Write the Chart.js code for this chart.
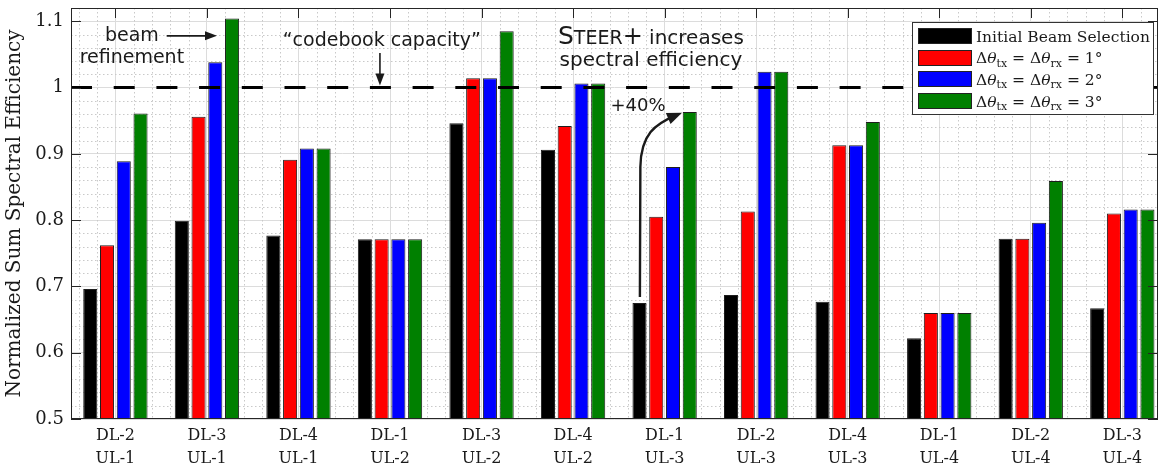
<!DOCTYPE html>
<html>
<head>
<meta charset="utf-8">
<script src="https://cdn.jsdelivr.net/npm/chart.js@4.4.1/dist/chart.umd.min.js"></script>
<style>
  body { margin: 0; background: #fff; }
</style>
</head>
<body>
<canvas id="chart" width="1162" height="465"></canvas>
<script>
// chart values
const categories = [
  ['DL-2', 'UL-1'], ['DL-3', 'UL-1'], ['DL-4', 'UL-1'],
  ['DL-1', 'UL-2'], ['DL-3', 'UL-2'], ['DL-4', 'UL-2'],
  ['DL-1', 'UL-3'], ['DL-2', 'UL-3'], ['DL-4', 'UL-3'],
  ['DL-1', 'UL-4'], ['DL-2', 'UL-4'], ['DL-3', 'UL-4']
];
const initialBeam = [0.696, 0.799, 0.777, 0.771, 0.946, 0.906, 0.675, 0.687, 0.677, 0.622, 0.772, 0.667];
const refine1deg  = [0.762, 0.956, 0.891, 0.771, 1.014, 0.942, 0.805, 0.813, 0.913, 0.660, 0.772, 0.810];
const refine2deg  = [0.889, 1.038, 0.908, 0.771, 1.014, 1.006, 0.880, 1.024, 0.913, 0.660, 0.796, 0.816];
const refine3deg  = [0.961, 1.104, 0.908, 0.771, 1.085, 1.006, 0.963, 1.024, 0.948, 0.660, 0.859, 0.816];
const seriesLabels = [
  'Initial Beam Selection',
  'Δθ_{tx} = Δθ_{rx} = 1°',
  'Δθ_{tx} = Δθ_{rx} = 2°',
  'Δθ_{tx} = Δθ_{rx} = 3°'
];
const seriesColors = ['#000000', '#ff0000', '#0000ff', '#008000'];
const yTicks = [0.5, 0.6, 0.7, 0.8, 0.9, 1, 1.1];
const codebookCapacity = 1;

const TEXT = '#1a1a1a';
const SERIF = '"DejaVu Serif", serif';
const SANS = '"DejaVu Sans", sans-serif';

function toPoints(values) {
  return values.map((v, i) => ({ x: i + 1, y: v }));
}

// draws text with _{...} subscripts, θ in italic
function drawRich(ctx, text, x, y, size) {
  const parts = text.split(/(_\{[^}]*\}|θ)/);
  parts.forEach(p => {
    if (!p) return;
    if (p.startsWith('_{')) {
      const s = p.slice(2, -1);
      ctx.font = `${Math.round(size * 0.7)}px ${SERIF}`;
      ctx.fillText(s, x, y + size * 0.22);
      x += ctx.measureText(s).width;
    } else if (p === 'θ') {
      ctx.font = `italic ${size}px ${SERIF}`;
      ctx.fillText(p, x, y);
      x += ctx.measureText(p).width;
    } else {
      ctx.font = `${size}px ${SERIF}`;
      ctx.fillText(p, x, y);
      x += ctx.measureText(p).width;
    }
  });
}

function arrowHead(ctx, x, y, angle, len, half) {
  ctx.beginPath();
  ctx.moveTo(x, y);
  ctx.lineTo(x - len * Math.cos(angle) + half * Math.sin(angle), y - len * Math.sin(angle) - half * Math.cos(angle));
  ctx.lineTo(x - len * Math.cos(angle) - half * Math.sin(angle), y - len * Math.sin(angle) + half * Math.cos(angle));
  ctx.closePath();
  ctx.fill();
}

// dotted minor grid under the bars
const minorGrid = {
  id: 'minorGrid',
  beforeDatasetsDraw(chart) {
    const { ctx, chartArea: a, scales: { x, y } } = chart;
    ctx.save();
    ctx.strokeStyle = '#c9c9c9';
    ctx.lineWidth = 1;
    ctx.setLineDash([1.5, 2.5]);
    for (let k = Math.ceil(y.min * 50); k <= Math.floor(y.max * 50); k++) {
      if (k % 5 === 0) continue;
      const yy = Math.round(y.getPixelForValue(k / 50)) + 0.5;
      ctx.beginPath(); ctx.moveTo(a.left, yy); ctx.lineTo(a.right, yy); ctx.stroke();
    }
    for (let k = Math.ceil(x.min * 5); k <= Math.floor(x.max * 5); k++) {
      if (k % 5 === 0) continue;
      const xx = Math.round(x.getPixelForValue(k / 5)) + 0.5;
      ctx.beginPath(); ctx.moveTo(xx, a.top); ctx.lineTo(xx, a.bottom); ctx.stroke();
    }
    ctx.restore();
  }
};

// dashed "codebook capacity" line and the text notes
const notes = {
  id: 'notes',
  afterDatasetsDraw(chart) {
    const { ctx, chartArea: a, scales: { x, y } } = chart;
    const X = v => x.getPixelForValue(v);
    const Y = v => y.getPixelForValue(v);
    ctx.save();

    ctx.strokeStyle = '#000';
    ctx.lineWidth = 3;
    ctx.setLineDash([21, 21.7]);
    ctx.beginPath();
    ctx.moveTo(a.left, Y(codebookCapacity));
    ctx.lineTo(a.right, Y(codebookCapacity));
    ctx.stroke();
    ctx.setLineDash([]);

    ctx.fillStyle = TEXT;
    ctx.strokeStyle = TEXT;
    ctx.textAlign = 'center';
    ctx.textBaseline = 'alphabetic';
    ctx.font = `19px ${SANS}`;
    ctx.fillText('beam', X(1.18), Y(1.070));
    ctx.fillText('refinement', X(1.18), Y(1.037));
    ctx.fillText('“codebook capacity”', X(3.91), Y(1.063));

    // beam refinement arrow
    ctx.lineWidth = 1.6;
    ctx.beginPath();
    ctx.moveTo(X(1.56), Y(1.078));
    ctx.lineTo(X(2.06), Y(1.078));
    ctx.stroke();
    arrowHead(ctx, X(2.11), Y(1.078), 0, 12, 4.5);

    // codebook capacity arrow
    ctx.beginPath();
    ctx.moveTo(X(3.89), Y(1.052));
    ctx.lineTo(X(3.89), Y(1.012));
    ctx.stroke();
    arrowHead(ctx, X(3.89), Y(1.003), Math.PI / 2, 12, 4.5);

    // STEER+ text, small caps
    const cx = X(6.85), by = Y(1.066);
    const pieces = [['S', 25], ['TEER', 19], ['+', 24], [' increases', 20]];
    let total = 0;
    pieces.forEach(([t, s]) => { ctx.font = `${s}px ${SANS}`; total += ctx.measureText(t).width; });
    let px = cx - total / 2;
    ctx.textAlign = 'left';
    pieces.forEach(([t, s]) => {
      ctx.font = `${s}px ${SANS}`;
      ctx.fillText(t, px, by);
      px += ctx.measureText(t).width;
    });
    ctx.textAlign = 'center';
    ctx.font = `20px ${SANS}`;
    ctx.fillText('spectral efficiency', cx, Y(1.033));

    ctx.font = `18px ${SANS}`;
    ctx.fillText('+40%', X(6.71), Y(0.965));

    // curved +40% arrow
    const p0 = [X(6.73), Y(0.684)];
    const p1 = [X(6.735), Y(0.88)];
    const c1 = [X(6.74), Y(0.93)];
    const c2 = [X(6.9), Y(0.945)];
    const p3 = [X(7.12), Y(0.958)];
    const tip = [X(7.19), Y(0.962)];
    ctx.lineWidth = 2.4;
    ctx.beginPath();
    ctx.moveTo(p0[0], p0[1]);
    ctx.lineTo(p1[0], p1[1]);
    ctx.bezierCurveTo(c1[0], c1[1], c2[0], c2[1], p3[0], p3[1]);
    ctx.stroke();
    arrowHead(ctx, tip[0], tip[1], Math.atan2(tip[1] - c2[1], tip[0] - c2[0]), 15, 6);

    ctx.restore();
  }
};

// legend box, frame and inward ticks
const frame = {
  id: 'frame',
  afterDraw(chart) {
    const { ctx, chartArea: a, scales: { x, y } } = chart;
    ctx.save();

    ctx.strokeStyle = '#262626';
    ctx.lineWidth = 1;
    yTicks.forEach(v => {
      const yy = Math.round(y.getPixelForValue(v)) + 0.5;
      ctx.beginPath();
      ctx.moveTo(a.left, yy); ctx.lineTo(a.left + 10, yy);
      ctx.moveTo(a.right, yy); ctx.lineTo(a.right - 10, yy);
      ctx.stroke();
    });
    categories.forEach((c, i) => {
      const xx = Math.round(x.getPixelForValue(i + 1)) + 0.5;
      ctx.beginPath();
      ctx.moveTo(xx, a.top); ctx.lineTo(xx, a.top + 10);
      ctx.stroke();
    });
    ctx.strokeRect(Math.round(a.left) + 0.5, Math.round(a.top) + 0.5, Math.round(a.width) - 1, Math.round(a.height) - 1);

    // legend
    const lw = 241, lh = 92;
    const lx = Math.round(a.right - 5 - lw), ly = Math.round(a.top + 14);
    ctx.fillStyle = '#fff';
    ctx.fillRect(lx, ly, lw, lh);
    ctx.strokeStyle = '#333';
    ctx.strokeRect(lx + 0.5, ly + 0.5, lw, lh);
    chart.data.datasets.forEach((ds, i) => {
      const sy = ly + 6 + i * 21.7;
      ctx.fillStyle = ds.backgroundColor;
      ctx.fillRect(lx + 6, Math.round(sy), 54, 16);
      ctx.strokeStyle = '#222';
      ctx.strokeRect(lx + 6.5, Math.round(sy) + 0.5, 53, 15);
      ctx.fillStyle = TEXT;
      ctx.textAlign = 'left';
      ctx.textBaseline = 'alphabetic';
      drawRich(ctx, ds.label, lx + 64, sy + 13.5, 15.5);
    });

    ctx.restore();
  }
};

const seriesData = [initialBeam, refine1deg, refine2deg, refine3deg];

new Chart(document.getElementById('chart'), {
  type: 'bar',
  data: {
    datasets: seriesData.map((vals, i) => ({
      label: seriesLabels[i],
      data: toPoints(vals),
      backgroundColor: seriesColors[i],
      borderColor: '#1e1e1e',
      borderWidth: 1,
      categoryPercentage: 0.732,
      barPercentage: 0.84
    }))
  },
  options: {
    responsive: false,
    animation: false,
    devicePixelRatio: 1,
    layout: { padding: { top: 8, right: 4, left: 0, bottom: 0 } },
    plugins: {
      legend: { display: false },
      tooltip: { enabled: false }
    },
    scales: {
      x: {
        type: 'linear',
        offset: false,
        min: 0.515,
        max: 12.39,
        afterBuildTicks: s => { s.ticks = categories.map((c, i) => ({ value: i + 1 })); },
        afterFit: s => { s.height = 46; s.paddingLeft = 0; s.paddingRight = 0; },
        grid: { color: '#dcdcdc', drawTicks: false, offset: false },
        border: { display: false },
        ticks: {
          autoSkip: false,
          maxRotation: 0,
          padding: 6,
          color: TEXT,
          font: { family: SERIF, size: 16, lineHeight: 1.4 },
          callback: v => categories[Math.round(v) - 1]
        }
      },
      y: {
        min: 0.5,
        max: 1.12,
        afterBuildTicks: s => { s.ticks = yTicks.map(v => ({ value: v })); },
        afterFit: s => { s.width = 71; s.paddingTop = 0; s.paddingBottom = 0; },
        grid: { color: '#dcdcdc', drawTicks: false },
        border: { display: false },
        ticks: {
          padding: 7,
          color: TEXT,
          font: { family: SERIF, size: 18 },
          callback: v => String(+v.toFixed(1))
        },
        title: {
          display: true,
          text: 'Normalized Sum Spectral Efficiency',
          color: TEXT,
          font: { family: SERIF, size: 20 },
          padding: { top: 3, bottom: 0 }
        }
      }
    }
  },
  plugins: [minorGrid, notes, frame]
});
</script>
</body>
</html>
